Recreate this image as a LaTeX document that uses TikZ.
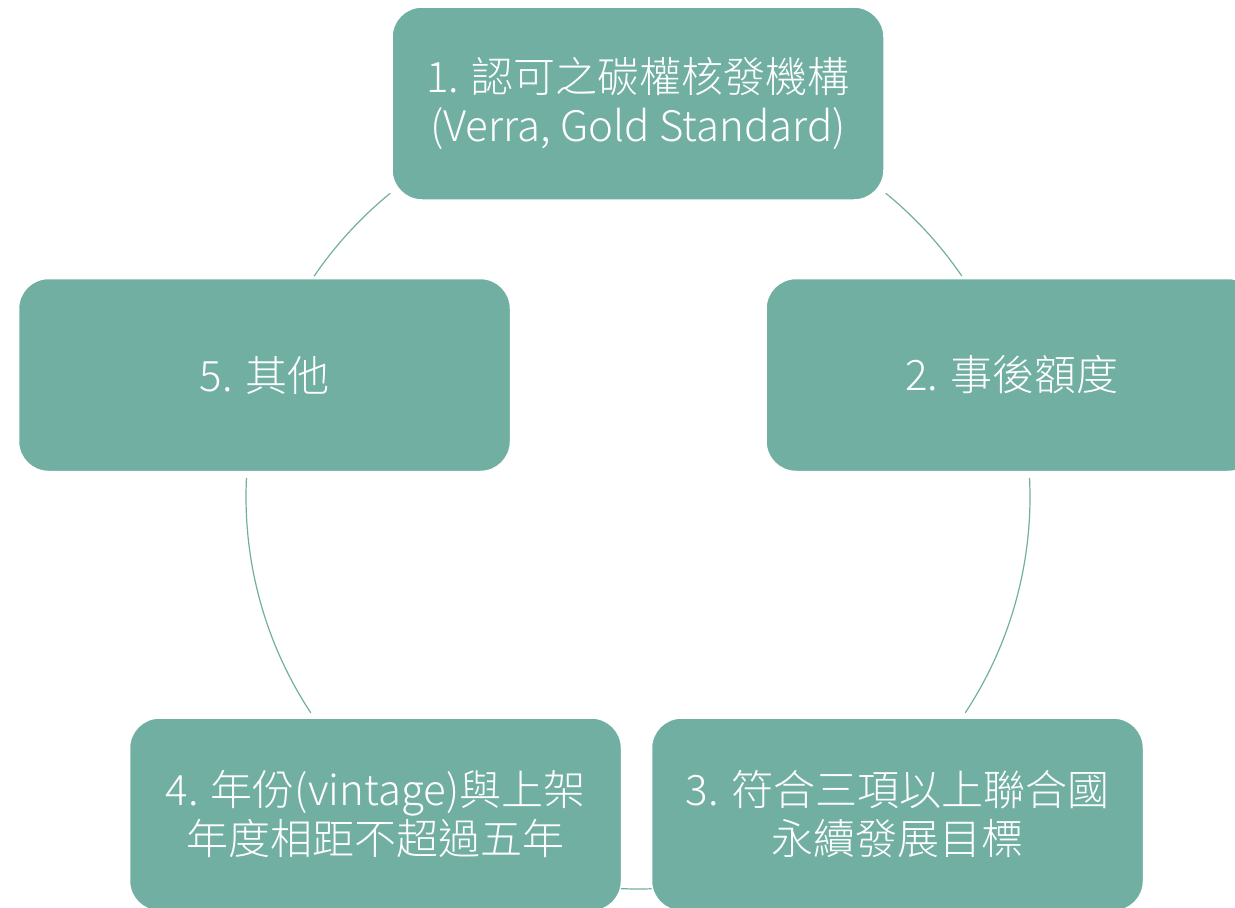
\documentclass[tikz,border=0pt]{standalone}
\usepackage{fontspec}
\setmainfont{Noto Sans CJK TC}[UprightFont = * Light]
\definecolor{cycleteal}{RGB}{112,175,162}

\begin{document}
\begin{tikzpicture}[x=1pt,y=1pt]

\tikzset{
  goal/.style = {rounded corners=30pt, fill=cycleteal, draw=white, line width=1.5pt,
    minimum width=492pt, minimum height=193pt, inner sep=0pt,
    text=white, align=center, font=\fontsize{42}{49}\selectfont},
  ring/.style = {draw=cycleteal, line width=1.2pt}
}

\useasboundingbox (0,0) rectangle (1235,-908);
\clip (0,0) rectangle (1235,-908);

\coordinate (hub) at (638,-497);

\node[goal] (g1) at (638,-103.5)  {1. 認可之碳權核發機構\\(Verra, Gold Standard)};
\node[goal] (g2) at (1012,-375)   {2. 事後額度};
\node[goal] (g3) at (897.5,-814.5) {3. 符合三項以上聯合國\\永續發展目標};
\node[goal] (g4) at (375.5,-814.5) {4. 年份(vintage)與上架\\年度相距不超過五年};
\node[goal] (g5) at (264.5,-375)  {5. 其他};

% arcs of the cycle, g1 -> g2 -> g3 -> g4 -> g5 -> g1
\draw[ring] ([shift={(50.8:392)}]hub) arc[start angle=50.8, end angle=34.3, radius=392];
\draw[ring] ([shift={(2.8:392)}]hub) arc[start angle=2.8, end angle=-33.4, radius=392];
\draw[ring] ([shift={(-88:392)}]hub) arc[start angle=-88, end angle=-92.5, radius=392];
\draw[ring] ([shift={(213.4:392)}]hub) arc[start angle=213.4, end angle=177.2, radius=392];
\draw[ring] ([shift={(145.7:392)}]hub) arc[start angle=145.7, end angle=129.2, radius=392];

\end{tikzpicture}
\end{document}
